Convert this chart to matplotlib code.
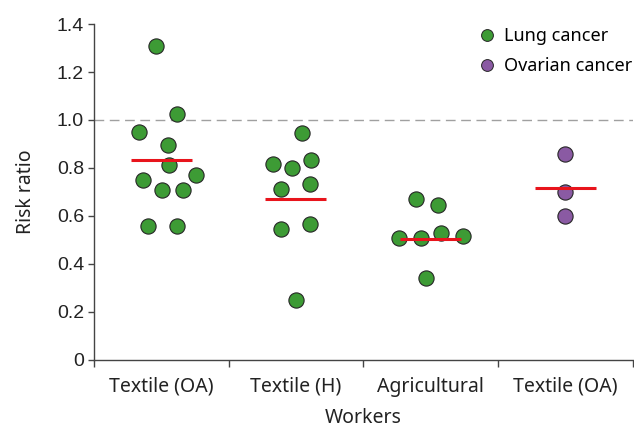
import numpy as np
import matplotlib
matplotlib.use('Agg')
import matplotlib.pyplot as plt
from matplotlib.lines import Line2D

categories = ['Textile (OA)', 'Textile (H)', 'Agricultural', 'Textile (OA)']
cancer_type = ['Lung cancer', 'Lung cancer', 'Lung cancer', 'Ovarian cancer']

# risk ratios per study
rr_values = [
    [1.308, 1.024, 0.95, 0.896, 0.812, 0.75, 0.771, 0.708, 0.708, 0.56, 0.56],
    [0.945, 0.815, 0.799, 0.833, 0.711, 0.732, 0.545, 0.565, 0.25],
    [0.67, 0.646, 0.507, 0.507, 0.528, 0.517, 0.34],
    [0.858, 0.701, 0.60],
]
# horizontal jitter of each point within its category
jitter = [
    [-0.040, 0.121, -0.166, 0.047, 0.059, -0.134, 0.255, 0.007, 0.163, -0.097, 0.114],
    [0.047, -0.171, -0.030, 0.114, -0.114, 0.101, -0.114, 0.106, 0.002],
    [-0.109, 0.054, -0.238, -0.068, 0.076, 0.240, -0.033],
    [0.0, 0.0, 0.0],
]
pooled_rr = [0.835, 0.67, 0.503, 0.715]

colors = {'Lung cancer': '#3d9b35', 'Ovarian cancer': '#8a5aa3'}
label_font = ['Noto Sans', 'DejaVu Sans']
tick_font = ['Liberation Sans', 'DejaVu Sans']

fig = plt.figure(figsize=(6.34, 4.29), dpi=100)
ax = fig.add_axes([0.148, 0.161, 0.85, 0.783])

ax.axhline(1.0, color='#a0a0a0', lw=1.0, ls=(0, (7, 4)), zorder=1)

for i, (vals, jit) in enumerate(zip(rr_values, jitter)):
    x = i + np.asarray(jit)
    ax.scatter(x, vals, s=120, color=colors[cancer_type[i]], edgecolor='#262626',
               linewidth=0.8, zorder=3)
    ax.plot([i - 0.226, i + 0.226], [pooled_rr[i]] * 2, color='#e8141c', lw=2.2,
            solid_capstyle='butt', zorder=4)

ax.set_xlim(-0.5, 3.5)
ax.set_ylim(0, 1.4)
ax.set_yticks(np.arange(0, 1.41, 0.2))
ax.set_yticklabels(['0'] + ['%.1f' % v for v in np.arange(0.2, 1.41, 0.2)],
                   family=tick_font, fontsize=14, color='#222222')
ax.set_xticks(range(len(categories)))
ax.set_xticklabels(categories, family=label_font, fontsize=14, color='#222222')
ax.set_xticks(np.arange(-0.5, 3.6, 1.0), minor=True)
ax.tick_params(axis='x', which='major', length=0, pad=12)
ax.tick_params(axis='x', which='minor', length=5, width=1.0, color='#444444', direction='out')
ax.tick_params(axis='y', length=4, width=1.0, color='#444444', pad=3)

for side in ['top', 'right']:
    ax.spines[side].set_visible(False)
for side in ['left', 'bottom']:
    ax.spines[side].set_color('#444444')
    ax.spines[side].set_linewidth(1.0)

ax.set_ylabel('Risk ratio', family=label_font, fontsize=14, color='#222222', labelpad=15)
ax.set_xlabel('Workers', family=label_font, fontsize=14, color='#222222', labelpad=8)

handles = [Line2D([], [], marker='o', ls='', markersize=8.5, markerfacecolor=colors[k],
                  markeredgecolor='#262626', markeredgewidth=0.7, label=k)
           for k in ['Lung cancer', 'Ovarian cancer']]
ax.legend(handles=handles, loc='upper right', bbox_to_anchor=(1.0, 0.99), frameon=False,
          handletextpad=0.45, handlelength=1.0, labelspacing=0.65, borderaxespad=0.0,
          borderpad=0.0, prop={'family': label_font, 'size': 13})

fig.savefig('out.png', dpi=100)
